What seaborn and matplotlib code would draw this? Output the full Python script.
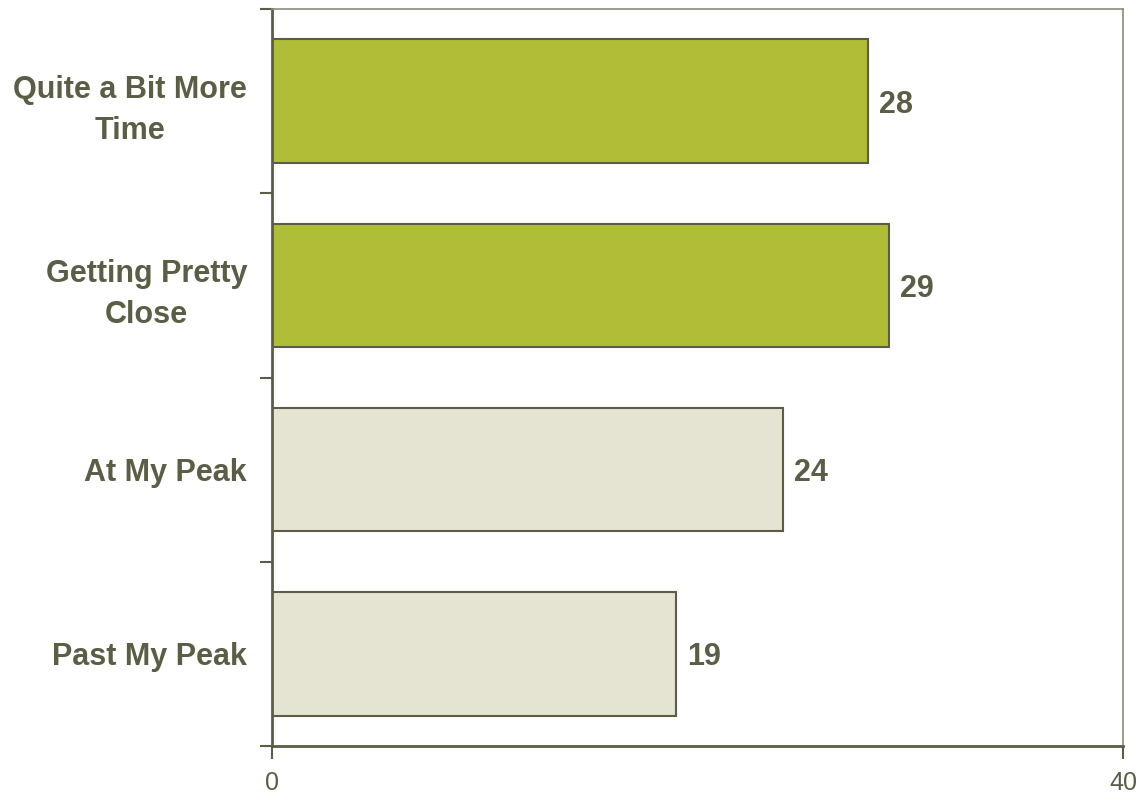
import matplotlib
matplotlib.use("Agg")
import matplotlib.pyplot as plt
import seaborn as sns
import pandas as pd
import numpy as np

categories = ["Quite a Bit More\nTime", "Getting Pretty\nClose", "At My Peak", "Past My Peak"]
values = [28, 29, 24, 19]
bar_colors = ["#b0bd37", "#b0bd37", "#e5e4d3", "#e5e4d3"]
x_ticks = [0, 40]

sns.set_theme(style="white")
plt.rcParams['font.family'] = ['Liberation Sans', 'DejaVu Sans']

text_color = "#5c5d45"
edge_color = "#5c5d45"

df = pd.DataFrame({"cat": categories, "val": values})

fig = plt.figure(figsize=(11.41, 7.94), dpi=100)
ax = fig.add_axes([272/1141, 1 - 746/794, (1123 - 272)/1141, (746 - 9)/794])

sns.barplot(data=df, x="val", y="cat", hue="cat", palette=bar_colors, legend=False,
            orient="h", width=0.67, edgecolor=edge_color, linewidth=1.5, ax=ax, saturation=1)

ax.set_xlim(0, 40)
ax.set_ylim(3.5, -0.5)
ax.set_xlabel("")
ax.set_ylabel("")

ax.set_xticks(x_ticks)
ax.set_xticklabels([str(t) for t in x_ticks], fontsize=18, color=text_color)
ax.tick_params(axis="x", direction="out", length=9, width=1.5, color=edge_color, pad=9, bottom=True)

ax.set_yticks(range(len(categories)))
ax.set_yticklabels(categories, fontsize=22, fontweight="bold", color=text_color)
for lab in ax.get_yticklabels():
    lab.set_multialignment("center")
    lab.set_linespacing(1.5)
ax.tick_params(axis="y", which="major", length=0, pad=18)
ax.set_yticks(np.arange(-0.5, len(categories), 1.0), minor=True)
ax.tick_params(axis="y", which="minor", direction="out", length=9, width=1.5, color=edge_color, left=True)

for c in ax.containers:
    labels = ax.bar_label(c, fmt="%d", padding=8, fontsize=22, fontweight="bold", color=text_color)
    for t in labels:
        t.set_va("center_baseline")

for side in ["left", "bottom"]:
    ax.spines[side].set_color(edge_color)
    ax.spines[side].set_linewidth(2)
for side in ["top", "right"]:
    ax.spines[side].set_visible(True)
    ax.spines[side].set_color("#8a8b78")
    ax.spines[side].set_linewidth(1.2)

fig.savefig("out.png", dpi=100, facecolor="white")
